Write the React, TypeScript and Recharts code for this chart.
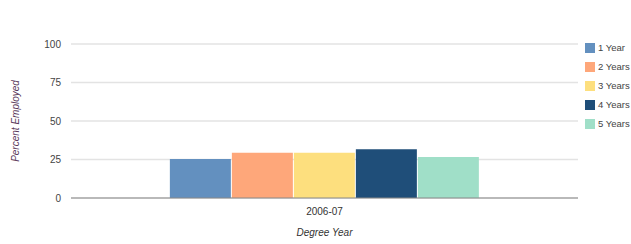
import { BarChart, Bar, XAxis, YAxis, CartesianGrid, Legend } from 'recharts';

const categories = ['2006-07'];
const seriesNames = ['1 Year', '2 Years', '3 Years', '4 Years', '5 Years'];
const seriesValues = [25.3, 29.4, 29.4, 31.6, 26.6];
const seriesColors = ['#6390bf', '#fea77a', '#fddf7e', '#1f4e79', '#a0dfc8'];
const yTicks = [0, 25, 50, 75, 100];

const data = categories.map((cat) => {
  const row: Record<string, string | number> = { year: cat };
  seriesNames.forEach((n, i) => { row[n] = seriesValues[i]; });
  return row;
});

const font = '"Liberation Sans", Arial, sans-serif';

const LegendBox = () => (
  <div style={{ paddingLeft: 7, fontFamily: font, fontSize: 9.5, color: '#444' }}>
    {seriesNames.map((n, i) => (
      <div key={n} style={{ display: 'flex', alignItems: 'center', height: 19, whiteSpace: 'nowrap' }}>
        <span style={{ width: 10, height: 10, flexShrink: 0, background: seriesColors[i], marginRight: 3, display: 'inline-block' }} />
        {n}
      </div>
    ))}
  </div>
);

export default function App() {
  return (
    <div style={{ position: 'absolute', left: 0, top: 0, background: '#fff' }}>
      <BarChart width={631} height={244} data={data}
        margin={{ top: 44, right: 5, bottom: 6, left: 0 }}
        barCategoryGap="19.5%" barGap={1}>
        <CartesianGrid horizontal vertical={false} stroke="#e3e3e3" strokeWidth={1.5} />
        <XAxis dataKey="year" height={40} tickLine={false} stroke="#888" tickMargin={4}
          tick={{ fill: '#333', fontSize: 10, fontFamily: font }}
          label={{ value: 'Degree Year', position: 'insideBottom', offset: 2, fill: '#333', fontSize: 10, fontFamily: font, fontStyle: 'italic' }} />
        <YAxis width={71} domain={[0, 100]} ticks={yTicks} axisLine={false} tickLine={false} tickMargin={4}
          tick={{ fill: '#444', fontSize: 10, fontFamily: font }}
          label={{ value: 'Percent Employed', angle: -90, position: 'insideLeft', offset: 15, textAnchor: 'middle', fill: '#5b3a5b', fontSize: 10, fontFamily: font, fontStyle: 'italic' }} />
        <Legend layout="vertical" align="right" verticalAlign="top" width={48}
          wrapperStyle={{ top: 38, overflow: 'visible' }} content={<LegendBox />} />
        {seriesNames.map((n, i) => (
          <Bar key={n} dataKey={n} fill={seriesColors[i]} isAnimationActive={false} />
        ))}
      </BarChart>
    </div>
  );
}
